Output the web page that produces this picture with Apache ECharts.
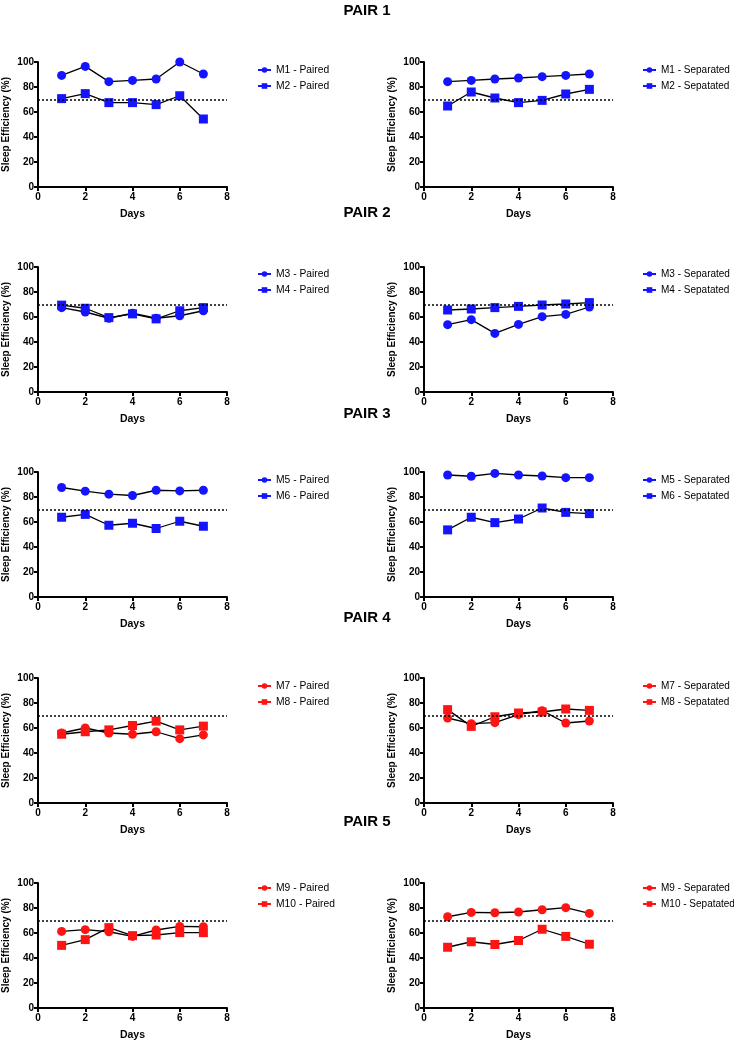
<!DOCTYPE html>
<html>
<head>
<meta charset="utf-8">
<script src="https://cdn.jsdelivr.net/npm/echarts@6/dist/echarts.min.js"></script>
<style>
html,body{margin:0;padding:0;background:#fff;}
#chart{width:734px;height:1045px;}
</style>
</head>
<body>
<div id="chart"></div>
<script>
// ---- data ----
const days = [1, 2, 3, 4, 5, 6, 7];
const xTicks = [0, 2, 4, 6, 8];
const yTicks = [0, 20, 40, 60, 80, 100];
const threshold = 70;
const pairTitles = ['PAIR 1', 'PAIR 2', 'PAIR 3', 'PAIR 4', 'PAIR 5'];

const m1Paired = [89.3, 96.5, 84.3, 85.3, 86.4, 100, 90.4];
const m2Paired = [70.7, 74.7, 67.5, 67.5, 65.9, 73, 54.4];
const m1Separated = [84.3, 85.3, 86.4, 87.2, 88.3, 89.3, 90.4];
const m2Separated = [64.8, 76, 71.2, 67.5, 69.3, 74.4, 78.1];

const m3Paired = [67.5, 64, 59, 63, 59, 61, 65];
const m4Paired = [69.5, 67, 59.5, 62.5, 58.5, 65, 67.5];
const m3Separated = [53.9, 57.9, 46.9, 54.1, 60.3, 62.1, 68];
const m4Separated = [65.6, 66.4, 67.5, 68.5, 69.6, 70.4, 71.5];

const m5Paired = [87.6, 84.7, 82.3, 81.2, 85.4, 84.9, 85.4];
const m6Paired = [63.8, 66.1, 57.4, 59, 54.8, 60.6, 56.6];
const m5Separated = [97.6, 96.6, 98.9, 97.6, 96.8, 95.5, 95.5];
const m6Separated = [53.7, 63.8, 59.5, 62.4, 71.2, 67.7, 66.7];

const m7Paired = [56, 60, 56, 55, 57, 51.5, 54.5];
const m8Paired = [55, 57, 58.5, 62, 65.5, 58.5, 61.5];
const m7Separated = [68, 63.5, 64.3, 70.7, 73.9, 64, 65.6];
const m8Separated = [74.7, 61.3, 69, 72, 72.8, 75.2, 74.1];

const m9Paired = [61.3, 62.7, 61, 57.3, 62.4, 65.3, 65];
const m10Paired = [50.1, 54.7, 64.3, 57.9, 58.4, 60.3, 60.3];
const m9Separated = [73, 76.5, 76.2, 76.8, 78.6, 80.3, 75.7];
const m10Separated = [48.6, 53, 50.8, 54, 63, 57.3, 51];

const panelNames = [
  ['M1 - Paired', 'M2 - Paired'], ['M1 - Separated', 'M2 - Sepatated'],
  ['M3 - Paired', 'M4 - Paired'], ['M3 - Separated', 'M4 - Sepatated'],
  ['M5 - Paired', 'M6 - Paired'], ['M5 - Separated', 'M6 - Sepatated'],
  ['M7 - Paired', 'M8 - Paired'], ['M7 - Separated', 'M8 - Sepatated'],
  ['M9 - Paired', 'M10 - Paired'], ['M9 - Separated', 'M10 - Sepatated']
];
const panelValues = [
  [m1Paired, m2Paired], [m1Separated, m2Separated],
  [m3Paired, m4Paired], [m3Separated, m4Separated],
  [m5Paired, m6Paired], [m5Separated, m6Separated],
  [m7Paired, m8Paired], [m7Separated, m8Separated],
  [m9Paired, m10Paired], [m9Separated, m10Separated]
];
const pairColors = ['#1414ff', '#1414ff', '#1414ff', '#ff1414', '#ff1414'];

// ---- layout ----
const FONT = 'Liberation Sans, Arial, sans-serif';
const gridTops = [62, 267, 472, 678, 883];
const titleTops = [-2, 200, 401, 605, 809];
const legendTops = [64, 268, 474, 680, 882];
const gridLefts = [37, 424];
const gridWidths = [190, 189];
const legendLefts = [257, 642];
const legendFonts = [10.3, 10];
const gridH = 125;

const option = {
  animation: false,
  backgroundColor: '#fff',
  title: [], grid: [], xAxis: [], yAxis: [], legend: [], series: []
};

pairTitles.forEach((t, i) => {
  option.title.push({
    text: t, left: 'center', top: titleTops[i],
    textStyle: { fontFamily: FONT, fontSize: 15, fontWeight: 'bold', color: '#000' }
  });
});

panelNames.forEach((names, p) => {
  const row = Math.floor(p / 2), col = p % 2;
  const color = pairColors[row];
  option.grid.push({
    left: gridLefts[col], top: gridTops[row], width: gridWidths[col], height: gridH
  });
  const axisLine = { show: true, onZero: false, lineStyle: { color: '#000', width: 2 } };
  const axisTick = { show: true, length: 4, lineStyle: { color: '#000', width: 2 } };
  const axisLabel = { color: '#000', fontFamily: FONT, fontSize: 10, fontWeight: 'bold', margin: 5 };
  option.xAxis.push({
    type: 'value', gridIndex: p, min: xTicks[0], max: xTicks[xTicks.length - 1], interval: 2,
    name: 'Days', nameLocation: 'middle', nameGap: 22,
    nameTextStyle: { color: '#000', fontFamily: FONT, fontSize: 10.5, fontWeight: 'bold' },
    axisLine, axisTick, axisLabel, splitLine: { show: false }
  });
  option.yAxis.push({
    type: 'value', gridIndex: p, min: yTicks[0], max: yTicks[yTicks.length - 1], interval: 20,
    name: 'Sleep Efficiency (%)', nameLocation: 'middle', nameGap: 27,
    nameTextStyle: { color: '#000', fontFamily: FONT, fontSize: 10, fontWeight: 'bold' },
    axisLine, axisTick, axisLabel: Object.assign({}, axisLabel, { margin: 4 }), splitLine: { show: false }
  });
  option.legend.push({
    orient: 'vertical', left: legendLefts[col], top: legendTops[row] + 1, padding: 0,
    itemWidth: 13, itemHeight: 7, itemGap: 6,
    textStyle: { fontFamily: FONT, fontSize: legendFonts[col], color: '#000' },
    lineStyle: { color: color, width: 2 },
    itemStyle: { color: color },
    data: names.slice(),
    selectedMode: false
  });
  names.forEach((n, k) => {
    const s = {
      name: n, type: 'line', xAxisIndex: p, yAxisIndex: p,
      data: days.map((d, j) => [d, panelValues[p][k][j]]),
      symbol: k === 0 ? 'circle' : 'rect', symbolSize: 9,
      itemStyle: { color: color },
      lineStyle: { color: '#000', width: 1.3 },
      z: k === 0 ? 3 : 4
    };
    if (k === 0) {
      s.markLine = {
        silent: true, symbol: 'none', animation: false,
        label: { show: false },
        lineStyle: { color: '#000', type: [2, 2], width: 1.5 },
        data: [{ yAxis: threshold }]
      };
    }
    option.series.push(s);
  });
});

const chart = echarts.init(document.getElementById('chart'), null, { renderer: 'canvas' });
chart.setOption(option);
</script>
</body>
</html>
